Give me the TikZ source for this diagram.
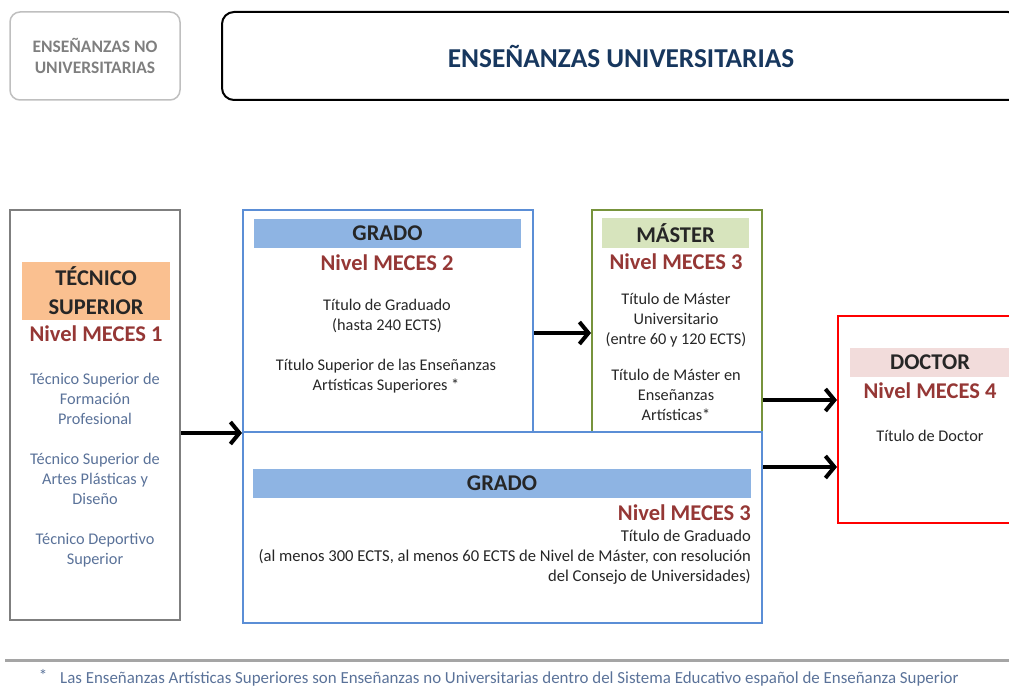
\documentclass[tikz,border=0pt]{standalone}
\usepackage{fontspec}
\setmainfont{Carlito}
\usetikzlibrary{arrows.meta}
\definecolor{grisclaro}{HTML}{BFBFBF}
\definecolor{grismedio}{HTML}{7F7F7F}
\definecolor{azulmarino}{HTML}{17375E}
\definecolor{azulborde}{HTML}{5B8ED6}
\definecolor{azulfondo}{HTML}{8EB4E3}
\definecolor{verdeborde}{HTML}{77933C}
\definecolor{verdefondo}{HTML}{D7E4BD}
\definecolor{naranjafondo}{HTML}{FAC090}
\definecolor{rosafondo}{HTML}{F2DCDB}
\definecolor{rojonivel}{HTML}{953735}
\definecolor{azultexto}{HTML}{5A7299}
\definecolor{textooscuro}{HTML}{262626}
\begin{document}
\begin{tikzpicture}[x=1pt,y=-1pt,
	caja/.style={draw=#1,line width=2pt,inner sep=0pt},
	cabecera/.style={fill=#1,inner sep=0pt,font=\bfseries\fontsize{22.5}{29}\selectfont,text=black!85,align=center},
	nivel/.style={font=\bfseries\fontsize{22.5}{27}\selectfont,text=rojonivel,inner sep=0pt},
	texto/.style={font=\fontsize{16.3}{20}\selectfont,align=center,inner sep=0pt,text=textooscuro},
	flecha/.style={line width=4pt,-{Straight Barb[length=9pt,width=22pt]}}]
	\useasboundingbox (0,0) rectangle (1009,687);
	\clip (0,0) rectangle (1009,687);
	% cabeceras de arriba
	\node at (95,56) (noUniv) [draw=grisclaro,line width=1.5pt,rounded corners=10pt,minimum width=170pt,minimum height=88pt,align=center,text=grismedio,font=\bfseries\fontsize{17.5}{21}\selectfont] {ENSEÑANZAS NO\\UNIVERSITARIAS};
	\node at (621,56) (univ) [draw,line width=2pt,rounded corners=12pt,minimum width=798pt,minimum height=88pt,text=azulmarino,font=\bfseries\fontsize{27.3}{30}\selectfont] {ENSEÑANZAS UNIVERSITARIAS};
	% tecnico superior
	\node at (95,415) (tec) [caja=grismedio,minimum width=170pt,minimum height=410pt] {};
	\node at (96,291) (tecHdr) [cabecera=naranjafondo,minimum width=148pt,minimum height=58pt] {TÉCNICO\\SUPERIOR};
	\node at (96,334) (tecNivel) [nivel] {Nivel MECES 1};
	\node at (95,399) (tecA) [texto,text=azultexto] {Técnico Superior de\\Formación\\Profesional};
	\node at (95,479) (tecB) [texto,text=azultexto] {Técnico Superior de\\Artes Plásticas y\\Diseño};
	\node at (95,550) (tecC) [texto,text=azultexto] {Técnico Deportivo\\Superior};
	% grado (nivel 2)
	\node at (388,321) (gradoA) [caja=azulborde,minimum width=290pt,minimum height=222pt] {};
	\node at (387.5,233.5) (gradoAHdr) [cabecera=azulfondo,minimum width=267pt,minimum height=29pt] {GRADO};
	\node at (387,263) (gradoANivel) [nivel] {Nivel MECES 2};
	\node at (387,316) (gradoATit) [texto] {Título de Graduado\\(hasta 240 ECTS)};
	\node at (386,376) (gradoAArt) [texto] {Título Superior de las Enseñanzas\\Artísticas Superiores *};
	% master
	\node at (677,321) (master) [caja=verdeborde,minimum width=170pt,minimum height=222pt] {};
	\node at (675.5,233) (masterHdr) [cabecera=verdefondo,minimum width=147pt,minimum height=30pt] {MÁSTER};
	\node at (676,262) (masterNivel) [nivel] {Nivel MECES 3};
	\node at (676,320) (masterTit) [texto] {Título de Máster\\Universitario\\(entre 60 y 120 ECTS)};
	\node at (676,395) (masterArt) [texto] {Título de Máster en\\Enseñanzas\\Artísticas*};
	% grado (nivel 3)
	\node at (502.5,527.5) (gradoB) [caja=azulborde,minimum width=519pt,minimum height=191pt] {};
	\node at (502,483.5) (gradoBHdr) [cabecera=azulfondo,minimum width=498pt,minimum height=29pt] {GRADO};
	\node at (751,513) (gradoBNivel) [nivel,anchor=east] {Nivel MECES 3};
	\node at (751,557) (gradoBTit) [texto,align=right,anchor=east,font=\fontsize{16.6}{20}\selectfont] {Título de Graduado\\(al menos 300 ECTS, al menos 60 ECTS de Nivel de Máster, con resolución\\del Consejo de Universidades)};
	% doctor
	\node at (929,419.5) (doctor) [caja=red,minimum width=182pt,minimum height=207pt] {};
	\node at (930,362.5) (doctorHdr) [cabecera=rosafondo,minimum width=160pt,minimum height=29pt] {DOCTOR};
	\node at (930,391) (doctorNivel) [nivel] {Nivel MECES 4};
	\node at (930,436) (doctorTit) [texto] {Título de Doctor};
	% flechas
	\coordinate (filaB) at (0,333);
	\coordinate (filaC) at (0,400);
	\coordinate (filaD) at (0,467);
	\draw[flecha] (tec.east |- gradoA.south west) -- (gradoA.south west);
	\draw[flecha] (gradoA.east |- filaB) -- (master.west |- filaB);
	\draw[flecha] (master.east |- filaC) -- (doctor.west |- filaC);
	\draw[flecha] (gradoB.east |- filaD) -- (doctor.west |- filaD);
	% nota al pie
	\coordinate (notaIzq) at (5,660);
	\coordinate (notaDer) at (1009,660);
	\draw[grismedio!70,line width=3pt] (notaIzq) -- (notaDer);
	\node at (43,675) (asterisco) [text=azultexto,font=\fontsize{17}{17}\selectfont] {*};
	\node at (60,679) (nota) [anchor=west,inner sep=0pt,text=azultexto,font=\fontsize{16.9}{18}\selectfont] {Las Enseñanzas Artísticas Superiores son Enseñanzas no Universitarias dentro del Sistema Educativo español de Enseñanza Superior};
\end{tikzpicture}
\end{document}
